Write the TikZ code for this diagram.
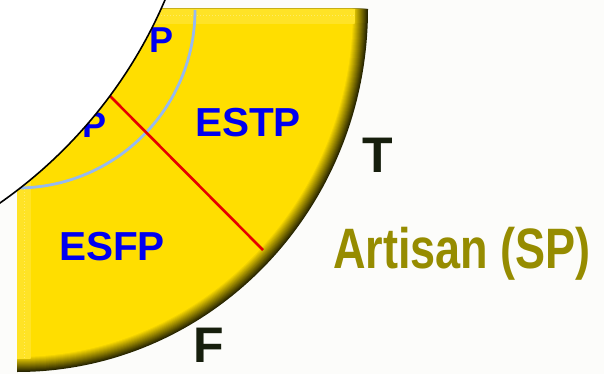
\documentclass[tikz,border=0pt]{standalone}
\usepackage{fontspec}
\setmainfont{Liberation Sans}
\begin{document}
\begin{tikzpicture}[x=1pt,y=-1pt,
  typelbl/.style={inner sep=0pt, text=typeblue, font=\bfseries\fontsize{40.5}{40}\selectfont},
  plbl/.style={inner sep=0pt, text=typeblue, font=\bfseries\fontsize{36}{36}\selectfont},
  axislbl/.style={inner sep=0pt, text=darktxt, font=\bfseries\fontsize{50}{50}\selectfont},
  grouplbl/.style={inner sep=0pt, text=olivetxt, font=\bfseries\fontsize{57}{57}\selectfont}]
\definecolor{bg}{RGB}{252,252,250}
\definecolor{gold}{RGB}{255,222,0}
\definecolor{shade}{RGB}{40,38,0}
\definecolor{ringblue}{RGB}{150,185,240}
\definecolor{typeblue}{RGB}{0,0,240}
\definecolor{olivetxt}{RGB}{150,140,0}
\definecolor{darktxt}{RGB}{22,30,12}
\useasboundingbox (0,0) rectangle (604,374);
\fill[bg] (0,0) rectangle (604,374);
% yellow quarter with shaded rim
\foreach \k in {0,...,16} {
  \pgfmathsetmacro\p{min(100,\k*100/15)}
  \fill[gold!\p!shade] (17,9) -- ++(351-\k,0) arc[start angle=0,end angle=90,x radius=351-\k,y radius=363-\k] -- cycle;
}
% lighter top and left strips
\begin{scope}
  \clip (17,9) -- ++(338,0) arc[start angle=0,end angle=90,x radius=338,y radius=350] -- cycle;
  \fill[gold!85!white] (17,9) rectangle (370,24);
  \fill[gold!85!white] (17,24) rectangle (31,372);
  \draw[gold!60!white, dotted, line width=1pt] (17,16) -- (370,16);
  \draw[gold!60!white, dotted, line width=1pt] (24,24) -- (24,372);
\end{scope}
% blue ring
\draw[ringblue, line width=2.8pt] (195,10) arc[start angle=0,end angle=90,radius=178];
% red divider
\coordinate (r1) at (106,92);
\coordinate (r2) at (263,250);
\draw[red!90!black, line width=2.6pt] (r1) -- (r2);
% labels
\node[plbl] (p1) at (162,40) {P};
\node[plbl] (p2) at (95,125) {P};
\node[typelbl] (estp) at (248,123) {ESTP};
\node[typelbl] (esfp) at (112,247) {ESFP};
\node[axislbl] (t) at (378,155) {T};
\node[axislbl] (f) at (209,345) {F};
\node[grouplbl, xscale=0.79, anchor=base west] (sp) at (333,268) {Artisan (SP)};
% white disc
\fill[white] (-272,-186.5) circle[radius=475];
\draw[black, line width=1.6pt] (-272,-186.5) circle[radius=475];
\end{tikzpicture}
\end{document}
